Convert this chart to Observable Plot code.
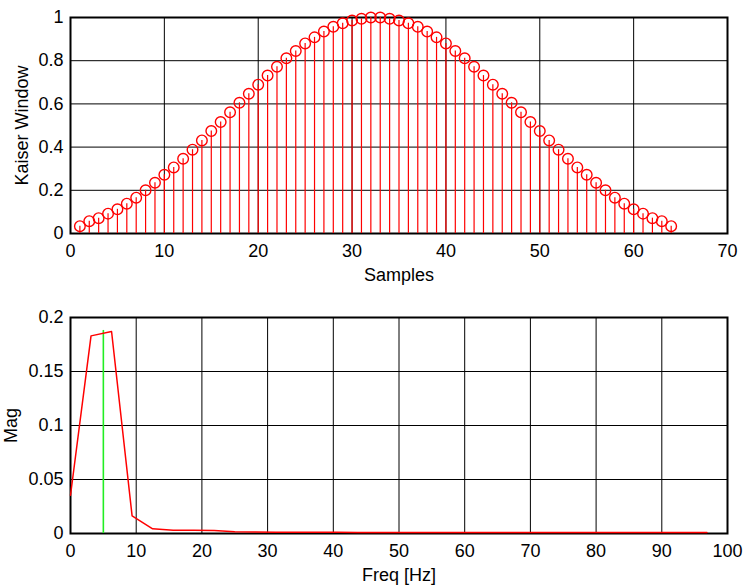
<!DOCTYPE html>
<html>
<head>
<meta charset="utf-8">
<script src="https://cdn.jsdelivr.net/npm/d3@7"></script>
<script src="https://cdn.jsdelivr.net/npm/@observablehq/plot@0.6"></script>
<style>
  html, body { margin: 0; padding: 0; background: white; }
  #chart svg { display: block; }
</style>
</head>
<body>
<div id="chart"></div>
<script>
// ---- Top panel: Kaiser window (64 samples) ----
const samples = [1,2,3,4,5,6,7,8,9,10,11,12,13,14,15,16,17,18,19,20,21,22,23,24,25,26,27,28,29,30,31,32,
                 33,34,35,36,37,38,39,40,41,42,43,44,45,46,47,48,49,50,51,52,53,54,55,56,57,58,59,60,61,62,63,64];
const kaiser = [0.034,0.057,0.071,0.092,0.112,0.138,0.166,0.200,0.235,0.272,0.306,0.346,0.388,0.431,0.474,0.516,
                0.561,0.605,0.647,0.689,0.731,0.772,0.811,0.845,0.880,0.908,0.935,0.957,0.973,0.986,0.994,1.000,
                1.000,0.994,0.986,0.973,0.957,0.935,0.908,0.880,0.845,0.811,0.772,0.731,0.689,0.647,0.605,0.561,
                0.516,0.474,0.431,0.388,0.346,0.306,0.272,0.235,0.200,0.166,0.138,0.112,0.092,0.071,0.057,0.034];
const topXTicks = [0,10,20,30,40,50,60,70];
const topYTicks = [0,0.2,0.4,0.6,0.8,1];

// ---- Bottom panel: magnitude spectrum ----
const freq = [0,3.125,6.25,9.375,12.5,15.625,18.75,21.875,25,28.125,31.25,34.375,37.5,40.625,43.75,46.875,
              50,53.125,56.25,59.375,62.5,65.625,68.75,71.875,75,78.125,81.25,84.375,87.5,90.625,93.75,96.875];
const mag = [0.0354,0.183,0.187,0.0163,0.0043,0.0031,0.0029,0.0028,0.0016,0.0013,0.0012,0.0011,0.0011,0.0011,0.0010,0.0010,
             0.0010,0.0010,0.0010,0.0010,0.0010,0.0010,0.0010,0.0010,0.0010,0.0010,0.0010,0.0010,0.0010,0.0010,0.0010,0.0010];
const markerFreq = [5];
const markerMag = [0.188];
const botXTicks = [0,10,20,30,40,50,60,70,80,90,100];
const botYTicks = [0,0.05,0.1,0.15,0.2];

const win = samples.map((n, i) => ({n, w: kaiser[i]}));
const spec = freq.map((f, i) => ({f, m: mag[i]}));
const marker = markerFreq.map((f, i) => ({f, m: markerMag[i]}));

const FONT = "'Liberation Sans', Arial, Helvetica, sans-serif";
const FS = 18;
const fmt = d => String(d);

const topChart = Plot.plot({
  width: 743, height: 292,
  marginTop: 17, marginBottom: 59, marginLeft: 70, marginRight: 16,
  style: {fontFamily: FONT, fontSize: FS + "px", background: "white", color: "black", overflow: "visible"},
  x: {domain: [0, 70]},
  y: {domain: [0, 1]},
  marks: [
    Plot.gridX(topXTicks, {stroke: "black", strokeOpacity: 1, strokeWidth: 1}),
    Plot.gridY(topYTicks, {stroke: "black", strokeOpacity: 1, strokeWidth: 1}),
    Plot.frame({stroke: "black", strokeWidth: 2}),
    Plot.axisX(topXTicks, {tickSize: 0, tickPadding: 11, tickFormat: fmt, label: "Samples",
      labelAnchor: "center", labelArrow: "none", labelOffset: 47, fontSize: FS}),
    Plot.axisY(topYTicks, {tickSize: 0, tickPadding: 7, tickFormat: fmt, label: "Kaiser Window",
      labelAnchor: "center", labelArrow: "none", labelOffset: 55, fontSize: FS}),
    Plot.ruleX(win, {x: "n", y1: 0, y2: "w", stroke: "#ff0000", strokeWidth: 1.2}),
    Plot.dot(win, {x: "n", y: "w", r: 5.3, stroke: "#ff0000", fill: "none", strokeWidth: 1.4})
  ]
});

const bottomChart = Plot.plot({
  width: 743, height: 293,
  marginTop: 25, marginBottom: 52, marginLeft: 70, marginRight: 16,
  style: {fontFamily: FONT, fontSize: FS + "px", background: "white", color: "black", overflow: "visible"},
  x: {domain: [0, 100]},
  y: {domain: [0, 0.2]},
  marks: [
    Plot.gridX(botXTicks, {stroke: "black", strokeOpacity: 1, strokeWidth: 1}),
    Plot.gridY(botYTicks, {stroke: "black", strokeOpacity: 1, strokeWidth: 1}),
    Plot.frame({stroke: "black", strokeWidth: 2}),
    Plot.axisX(botXTicks, {tickSize: 0, tickPadding: 11, tickFormat: fmt, label: "Freq [Hz]",
      labelAnchor: "center", labelArrow: "none", labelOffset: 47, fontSize: FS}),
    Plot.axisY(botYTicks, {tickSize: 0, tickPadding: 7, tickFormat: fmt, label: "Mag",
      labelAnchor: "center", labelArrow: "none", labelOffset: 66, fontSize: FS}),
    Plot.ruleX(marker, {x: "f", y1: 0, y2: "m", stroke: "#22ee22", strokeWidth: 1.6}),
    Plot.line(spec, {x: "f", y: "m", stroke: "#ff0000", strokeWidth: 1.5})
  ]
});

const el = document.getElementById("chart");
el.appendChild(topChart);
el.appendChild(bottomChart);
</script>
</body>
</html>
